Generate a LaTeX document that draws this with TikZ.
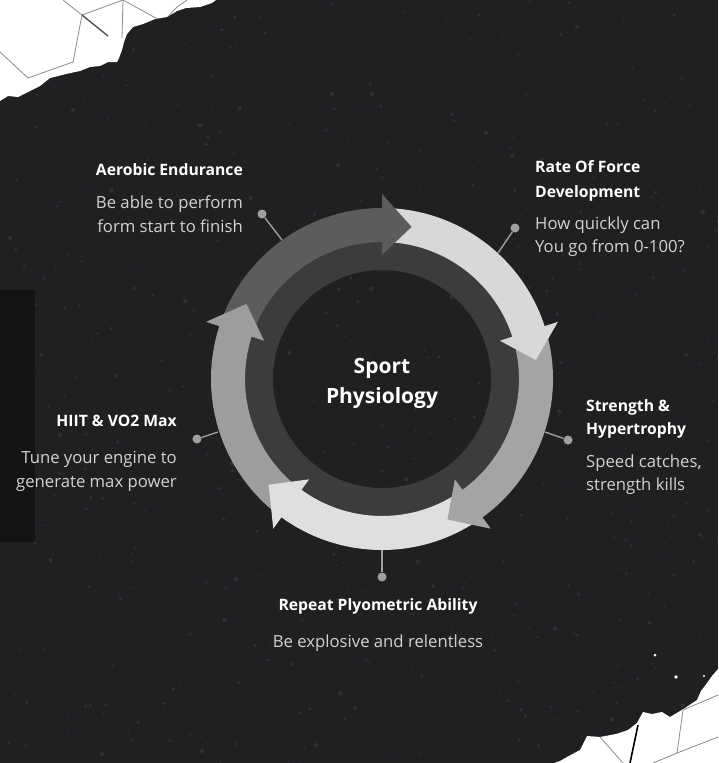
\documentclass[tikz,border=0pt]{standalone}
\usepackage{fontspec}
\setmainfont{Open Sans}
\definecolor{bg}{HTML}{202023}
\definecolor{strip}{HTML}{141417}
\definecolor{speck}{HTML}{5a5a5e}
\definecolor{hexline}{HTML}{8a8a8a}
\definecolor{innerband}{HTML}{3c3c3d}
\definecolor{ca}{HTML}{5c5c5c}
\definecolor{cb}{HTML}{d8d8d8}
\definecolor{cc}{HTML}{a4a4a4}
\definecolor{cd}{HTML}{dfdfdf}
\definecolor{ce}{HTML}{9d9d9d}
\definecolor{conncol}{HTML}{a0a0a0}
\definecolor{bodytext}{HTML}{d2d2d2}
\tikzset{
  dot/.style={circle,fill=conncol,inner sep=0pt,minimum size=9pt},
  conn/.style={draw=conncol,line width=1.4pt},
  lbl/.style={inner sep=0pt,text=white,font=\bfseries\fontsize{15.7}{18}\selectfont},
  bodytxt/.style={inner sep=0pt,text=bodytext,font=\fontsize{16.7}{19}\selectfont},
  centretxt/.style={inner sep=0pt,text=white,font=\bfseries\fontsize{21}{24}\selectfont},
  hex/.style={draw=hexline,line width=0.8pt}
}
\begin{document}
\begin{tikzpicture}[x=1pt,y=1pt]
\useasboundingbox (0,0) rectangle (718,-763);
\fill[bg] (0,0) rectangle (718,-763);
% texture
\pgfmathsetseed{11}
\foreach \i in {1,...,1400}{
  \pgfmathsetmacro\px{rnd*718}
  \pgfmathsetmacro\py{-rnd*763}
  \pgfmathsetmacro\pr{0.3+rnd*rnd*2.2}
  \fill[speck,opacity=0.28] (\px,\py) circle[radius=\pr];
}
% left dark strip
\fill[strip] (0,-290) rectangle (35,-542);
% top-left white area
\fill[white] (0,0) -- (216,0) -- (212,-3) -- (200,-7) -- (186,-8) -- (177,-11) -- (167,-17) -- (155,-19) -- (143,-24) -- (133,-27) -- (127,-34) -- (124,-42) -- (122,-50) -- (119,-58) -- (117,-62) -- (108,-62) -- (100,-66) -- (90,-67) -- (80,-71) -- (66,-74) -- (50,-78) -- (40,-86) -- (28,-92) -- (18,-97) -- (8,-96) -- (0,-101) -- cycle;
\begin{scope}
\clip (0,0) -- (216,0) -- (212,-3) -- (200,-7) -- (186,-8) -- (177,-11) -- (167,-17) -- (155,-19) -- (143,-24) -- (133,-27) -- (127,-34) -- (124,-42) -- (122,-50) -- (119,-58) -- (117,-62) -- (108,-62) -- (100,-66) -- (90,-67) -- (80,-71) -- (66,-74) -- (50,-78) -- (40,-86) -- (28,-92) -- (18,-97) -- (8,-96) -- (0,-101) -- cycle;
\draw[hex] (0,-52) -- (28,-78) -- (73,-62) -- (82,-15) -- (63,0);
\draw[hex] (82,-15) -- (123,0) -- (163,-22) -- (177,-7) -- (187,0);
\draw[hex] (123,0) -- (122,-38);
\draw[draw=hexline!60!black,line width=1.4pt] (82,-15) -- (108,-36);
\end{scope}
% bottom-right white area
\fill[white] (718,-669) -- (712,-676) -- (707,-683) -- (701,-691) -- (697,-700) -- (685,-708) -- (670,-717) -- (662,-712) -- (652,-714) -- (643,-712) -- (637,-723) -- (628,-730) -- (616,-734) -- (600,-737) -- (587,-736) -- (580,-750) -- (567,-757) -- (560,-761) -- (554,-763) -- (718,-763) -- cycle;
\begin{scope}
\clip (718,-669) -- (712,-676) -- (707,-683) -- (701,-691) -- (697,-700) -- (685,-708) -- (670,-717) -- (662,-712) -- (652,-714) -- (643,-712) -- (637,-723) -- (628,-730) -- (616,-734) -- (600,-737) -- (587,-736) -- (580,-750) -- (567,-757) -- (560,-761) -- (554,-763) -- (718,-763) -- cycle;
\draw[hex] (683,-710) -- (677,-753) -- (718,-737);
\draw[hex] (683,-710) -- (718,-695);
\draw[hex] (677,-753) -- (653,-763);
\draw[hex] (600,-737) -- (623,-763);
\draw[draw=black,line width=1.6pt] (638,-725) -- (630,-763);
\end{scope}
% flecks near bottom-right edge
\fill[white] (655,-655) circle[radius=1.5];
\fill[white] (676,-677) circle[radius=1.8];
\fill[white] (704,-676) circle[radius=1.2];
% ring
\begin{scope}[shift={(382,-379)}]
\fill[innerband,even odd rule] (0,0) circle[radius=138] (0,0) circle[radius=109];
\foreach \t/\c in {79/ca,7/cb,-65/cc,-137/cd,-209/ce}{
  \pgfmathsetmacro\aa{\t+82.5}
  \pgfmathsetmacro\ab{\t+10}
  \fill[\c] (\aa:171) arc[start angle=\aa,end angle=\ab,radius=171] -- (\ab:137) arc[start angle=\ab,end angle=\aa,radius=137] -- cycle;
}
\foreach \t/\c in {79/ca,7/cb,-65/cc,-137/cd,-209/ce}{
  \pgfmathsetmacro\ab{\t+11}
  \fill[\c] (\ab:124) -- (\ab:185) -- (\t:155) -- cycle;
}
\end{scope}
% connectors
\coordinate (r1) at (282,-240);
\coordinate (r2) at (498,-253);
\coordinate (r3) at (545,-432);
\coordinate (r4) at (218,-432);
\coordinate (r5) at (382,-550);
\node[dot] (d1) at (262,-214) {};
\node[dot] (d2) at (515,-228) {};
\node[dot] (d3) at (568,-440) {};
\node[dot] (d4) at (197,-439) {};
\node[dot] (d5) at (382,-577) {};
\draw[conn] (r1) -- (d1);
\draw[conn] (r2) -- (d2);
\draw[conn] (r3) -- (d3);
\draw[conn] (r4) -- (d4);
\draw[conn] (r5) -- (d5);
% centre
\node[centretxt,anchor=base] (c1) at (382,-373) {Sport};
\node[centretxt,anchor=base] (c2) at (382,-403) {Physiology};
% Aerobic
\node[lbl,anchor=base east] (a1) at (243,-175) {Aerobic Endurance};
\node[bodytxt,anchor=base east] (a2) at (243,-208) {Be able to perform};
\node[bodytxt,anchor=base east] (a3) at (243,-232) {form start to finish};
% Rate
\node[lbl,anchor=base west] (b1) at (535,-172) {Rate Of Force};
\node[lbl,anchor=base west] (b2) at (535,-197) {Development};
\node[bodytxt,anchor=base west] (b3) at (535,-229) {How quickly can};
\node[bodytxt,anchor=base west] (b4) at (535,-252) {You go from 0-100?};
% Strength
\node[lbl,anchor=base west] (s1) at (586,-411) {Strength \&};
\node[lbl,anchor=base west] (s2) at (586,-434) {Hypertrophy};
\node[bodytxt,anchor=base west] (s3) at (586,-467) {Speed catches,};
\node[bodytxt,anchor=base west] (s4) at (586,-490) {strength kills};
% HIIT
\node[lbl,anchor=base east] (h1) at (177,-426) {HIIT \& VO2 Max};
\node[bodytxt,anchor=base east] (h2) at (177,-463) {Tune your engine to};
\node[bodytxt,anchor=base east] (h3) at (177,-487) {generate max power};
% Repeat
\node[lbl,anchor=base] (p1) at (378,-610) {Repeat Plyometric Ability};
\node[bodytxt,anchor=base] (p2) at (378,-647) {Be explosive and relentless};
\end{tikzpicture}
\end{document}
